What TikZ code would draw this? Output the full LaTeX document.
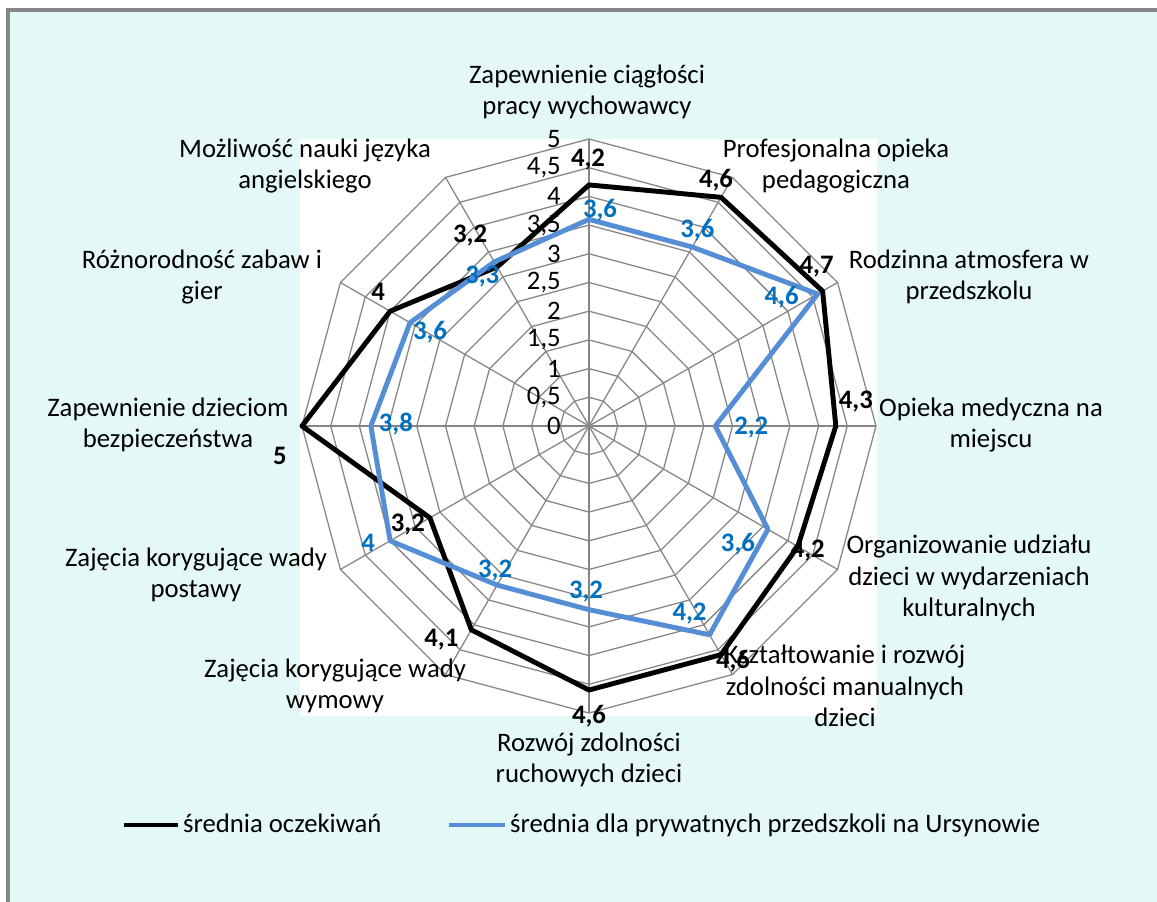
\documentclass[tikz,border=0pt]{standalone}
\usepackage{fontspec}
\setmainfont{Carlito}
\usetikzlibrary{positioning}
\definecolor{F}{RGB}{134,134,134}
\definecolor{BG}{RGB}{228,248,247}
\definecolor{G}{RGB}{134,134,134}
\definecolor{B}{RGB}{85,142,213}
\definecolor{BT}{RGB}{0,112,192}

\tikzset{
  cat/.style={align=center, font=\fontsize{19}{22.3}\selectfont, inner sep=0pt},
  val/.style={font=\fontsize{19}{22.3}\selectfont\bfseries, inner sep=0pt},
  tick/.style={font=\fontsize{19}{22.3}\selectfont, inner sep=0pt, anchor=east},
  serie/.style={line width=3.5pt, line join=round},
  legtext/.style={font=\fontsize{19}{22.3}\selectfont, anchor=base west, inner xsep=3.5pt, inner ysep=0pt}
}

\begin{document}
\begin{tikzpicture}[x=0.025cm,y=0.025cm]
  \useasboundingbox (-589,426) rectangle (568,-475);
  \clip (-589,426) rectangle (568,-475);
  \fill[BG] (-581,416) rectangle (600,-500);
  \draw[F, line width=2.2pt] (-581,-500) -- (-581,416) -- (600,416);
  \fill[white] (-289,287) rectangle (288,-290);

  % grid
  \foreach \k in {1,...,10}
    \draw[G, line width=0.9pt] (90:{28.7*\k}) \foreach \a in {60,30,...,-240} { -- (\a:{28.7*\k}) } -- cycle;
  \foreach \a in {0,30,...,330}
    \draw[G, line width=0.9pt] (0,0) -- (\a:287);

  % axis values
  \foreach \t [count=\k from 0] in {0,{0,5},1,{1,5},2,{2,5},3,{3,5},4,{4,5},5}
    \node[tick] (t\k) at (-28,{28.7*\k}) {\t};

  % categories
  \node[cat] (c1) at (-2,334) {Zapewnienie ciągłości\\pracy wychowawcy};
  \node[cat] (c2) at (247,260) {Profesjonalna opieka\\pedagogiczna};
  \node[cat] (c3) at (380,149) {Rodzinna atmosfera w\\przedszkolu};
  \node[cat] (c4) at (402,1) {Opieka medyczna na\\miejscu};
  \node[cat] (c5) at (380,-152) {Organizowanie udziału\\dzieci w wydarzeniach\\kulturalnych};
  \node[cat] (c6) at (256,-260) {Kształtowanie i rozwój\\zdolności manualnych\\dzieci};
  \node[cat] (c7) at (0,-334) {Rozwój zdolności\\ruchowych dzieci};
  \node[cat] (c8) at (-254,-260) {Zajęcia korygujące wady\\wymowy};
  \node[cat] (c9) at (-393,-149) {Zajęcia korygujące wady\\postawy};
  \node[cat] (c10) at (-421,1) {Zapewnienie dzieciom\\bezpieczeństwa};
  \node[cat] (c11) at (-387,149) {Różnorodność zabaw i\\gier};
  \node[cat] (c12) at (-284,260) {Możliwość nauki języka\\angielskiego};

  % data points
  \foreach \v [count=\i] in {4.2,4.6,4.7,4.3,4.2,4.6,4.6,4.1,3.2,5,4,3.2}
    \coordinate (k\i) at ({90-30*(\i-1)}:{57.4*\v});
  \foreach \v [count=\i] in {3.6,3.6,4.6,2.2,3.6,4.2,3.2,3.2,4,3.8,3.6,3.3}
    \coordinate (p\i) at ({90-30*(\i-1)}:{57.4*\v});

  \draw[black, serie] (k1) \foreach \i in {2,...,12} { -- (k\i) } -- cycle;
  \draw[B, serie] (p1) \foreach \i in {2,...,12} { -- (p\i) } -- cycle;

  % data labels
  \foreach \l/\dx/\dy [count=\i] in {{4,2}/-1/25, {4,6}/-5/17, {4,7}/-6/24, {4,3}/20/24,
      {4,2}/10/-4, {4,6}/12/-7, {4,6}/0/-26, {4,1}/-30/-10, {3,2}/-22/-7,
      5/-22/-30, 4/-12/19, {3,2}/-27/31}
    \node[val, black] (lk\i) at ([shift={(\dx,\dy)}]k\i) {\l};
  \foreach \l/\dx/\dy [count=\i] in {{3,6}/11/9, {3,6}/5/17, {4,6}/-36/-3, {2,2}/36/-2,
      {3,6}/-30/-15, {4,2}/-20/21, {3,2}/-3/18, {3,2}/-2/15, 4/-22/-2,
      {3,8}/25/2, {3,6}/20/-10, {3,3}/-12/-15}
    \node[val, BT] (lp\i) at ([shift={(\dx,\dy)}]p\i) {\l};

  % legend
  \node[legtext] (leg1) at (-411,-406) {średnia oczekiwań};
  \coordinate (s1) at (-465,-399);
  \draw[black, line width=3.5pt] (s1) -- (s1 -| leg1.west);
  \node[legtext] (leg2) at (-84,-406) {średnia dla prywatnych przedszkoli na Ursynowie};
  \coordinate (s2) at (-140,-399);
  \draw[B, line width=3.5pt] (s2) -- (s2 -| leg2.west);
\end{tikzpicture}
\end{document}
